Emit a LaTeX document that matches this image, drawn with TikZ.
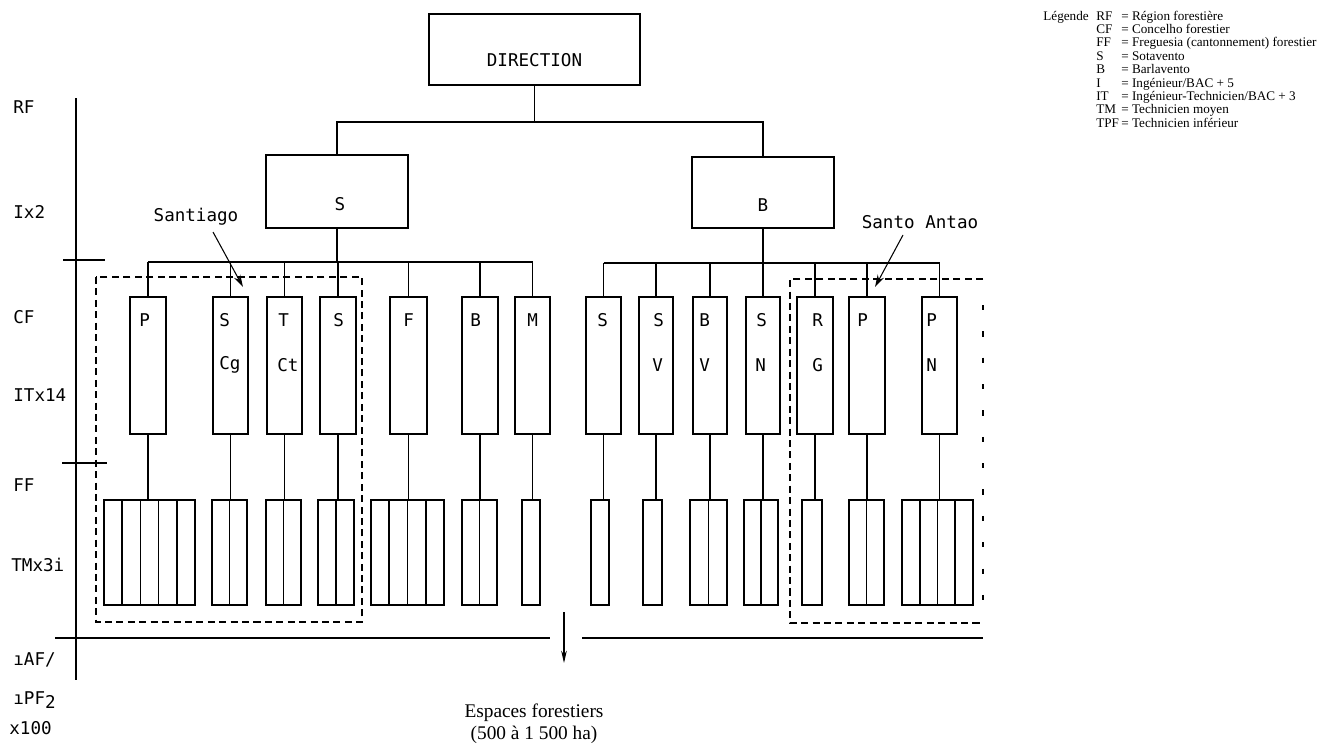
\documentclass[tikz,border=0pt]{standalone}
\usepackage{fontspec}
\setmainfont{Liberation Serif}
\newfontfamily\plotfont{DejaVu Sans Mono}
\usetikzlibrary{arrows.meta,calc}
\newcommand\cfb[7]{% name, xl, xr, top-x, top, bottom-x, bottom
  \node[box, minimum width={(#3-#2)*0.02cm}, minimum height=137*0.02cm] (#1) at ({(#2+#3)/2},365.5) {};
  \node[lab, anchor=west] (#1t) at (#4,320) {#5};
  \node[lab, anchor=west] (#1b) at (#6,365) {#7};
}
\newcommand\ffb[4]{% name, xl, xr, cells
  \node[box, minimum width={(#3-#2)*0.02cm}, minimum height=105*0.02cm] (#1) at ({(#2+#3)/2},552.5) {};
  \ifnum#4>1
    \pgfmathtruncatemacro\nn{#4-1}
    \foreach \k in {1,...,\nn}{
      \draw[divl] ($(#1.north west)!{\k/#4}!(#1.north east)$) -- ($(#1.south west)!{\k/#4}!(#1.south east)$);
    }
  \fi
}
\newcommand\legrow[3]{% row, key, text
  \node[leg] (lk#1) at (1096,{20+#1*13.4}) {#2};
  \node[leg] (lv#1) at (1121,{20+#1*13.4}) {= #3};
}
\begin{document}
\begin{tikzpicture}[x=0.02cm,y=-0.02cm,
  box/.style={draw, line width=1.1pt, rectangle, inner sep=0pt, outer sep=0pt},
  divl/.style={line width=0.9pt},
  conn/.style={line width=0.6pt},
  lab/.style={font=\plotfont\fontsize{10}{12}\selectfont, inner sep=0pt},
  leg/.style={font=\fontsize{7.5}{8}\selectfont, inner sep=0pt, anchor=base west},
  dbox/.style={line width=0.8pt, dash pattern=on 4pt off 2.5pt},
  tip/.style={-{Stealth[length=7pt,width=4pt]}, line width=0.6pt}]
\useasboundingbox (0,0) rectangle (1326,744);

% top level
\node[box, minimum width=211*0.02cm, minimum height=71*0.02cm] (dir) at (534.5,49.5) {};
\node[lab] (dirt) at (534.5,60) {DIRECTION};
\node[box, minimum width=142*0.02cm, minimum height=73*0.02cm] (S) at (337,191.5) {};
\node[lab] (St) at (340,204) {S};
\node[box, minimum width=142*0.02cm, minimum height=71*0.02cm] (B) at (763,192.5) {};
\node[lab] (Bt) at (763,205) {B};
\coordinate (j0) at (534.5,122);
\draw[conn] (dir.south) -- (j0);
\draw[conn] (S.north) |- (j0) -| (B.north);

% CF boxes
\cfb{cP}{130}{166}{139}{P}{139}{}
\cfb{cSCg}{213}{248}{219}{S}{219}{Cg}
\cfb{cTCt}{267}{302}{278}{T}{277}{Ct}
\cfb{cS}{320}{356}{333}{S}{333}{}
\cfb{cF}{390}{427}{403}{F}{403}{}
\cfb{cB}{462}{498}{470}{B}{470}{}
\cfb{cM}{515}{550}{527}{M}{527}{}
\cfb{dS}{586}{621}{597}{S}{597}{}
\cfb{dSV}{639}{673}{653}{S}{652}{V}
\cfb{dBV}{693}{727}{699}{B}{699}{V}
\cfb{dSN}{746}{780}{756}{S}{755}{N}
\cfb{dRG}{797}{833}{812}{R}{812}{G}
\cfb{dP}{849}{885}{857}{P}{857}{}
\cfb{dPN}{922}{957}{926}{P}{926}{N}

% buses
\coordinate (busL) at (0,262);
\coordinate (busR) at (0,263);
\draw[conn] (S.south) -- (S.south |- busL);
\draw[conn] (cP.north |- busL) -- (cM.north |- busL);
\foreach \n in {cP,cSCg,cTCt,cS,cF,cB,cM} \draw[conn] (\n.north) -- (\n.north |- busL);
\draw[conn] (B.south) -- (B.south |- busR);
\draw[conn] (dS.north |- busR) -- (dPN.north |- busR);
\foreach \n in {dS,dSV,dBV,dSN,dRG,dP,dPN} \draw[conn] (\n.north) -- (\n.north |- busR);

% FF boxes
\ffb{fP}{104}{195}{5}
\ffb{fSCg}{212}{247}{2}
\ffb{fTCt}{266}{301}{2}
\ffb{fS}{318}{354}{2}
\ffb{fF}{371}{444}{4}
\ffb{fB}{462}{497}{2}
\ffb{fM}{522}{540}{1}
\ffb{gS}{591}{609}{1}
\ffb{gSV}{643}{662}{1}
\ffb{gBV}{690}{727}{2}
\ffb{gSN}{744}{778}{2}
\ffb{gRG}{802}{822}{1}
\ffb{gP}{849}{884}{2}
\ffb{gPN}{902}{973}{4}
\foreach \a/\b in {cP/fP,cSCg/fSCg,cTCt/fTCt,cS/fS,cF/fF,cB/fB,cM/fM,dS/gS,dSV/gSV,dBV/gBV,dSN/gSN,dRG/gRG,dP/gP,dPN/gPN}
  \draw[conn] (\a.south) -- (\a.south |- \b.north);

% dashed groups
\draw[dbox] (96,277) rectangle (362,622);
\draw[dbox] (983,279) -- (790,279) -- (790,623) -- (983,623);
\draw[line width=0.6pt, dash pattern=on 3pt off 12pt] (983,305) -- (983,600);

% group labels
\node[lab] (santiago) at (196,217) {Santiago};
\coordinate (sa1) at (213,232);
\coordinate (sa2) at (243,287);
\draw[tip] (sa1) -- (sa2);
\node[lab] (antao) at (920,222) {Santo Antao};
\coordinate (an1) at (903,235);
\coordinate (an2) at (875,287);
\draw[tip] (an1) -- (an2);

% left axis
\coordinate (ax1) at (76,98);
\coordinate (ax2) at (76,680);
\draw[conn] (ax1) -- (ax2);
\coordinate (t1a) at (63,260); \coordinate (t1b) at (105,260);
\coordinate (t2a) at (62,463); \coordinate (t2b) at (107,463);
\draw[conn] (t1a) -- (t1b);
\draw[conn] (t2a) -- (t2b);
\coordinate (h1) at (55,638); \coordinate (h2) at (550,638);
\coordinate (h3) at (582,638); \coordinate (h4) at (983,638);
\draw[line width=0.8pt] (h1) -- (h2);
\draw[line width=0.8pt] (h3) -- (h4);
\coordinate (ar1) at (564,612); \coordinate (ar2) at (564,663);
\draw[-{Stealth[length=7pt,width=3.2pt]}, line width=0.6pt] (ar1) -- (ar2);

\node[lab, anchor=west] (lRF) at (13,107) {RF};
\node[lab, anchor=west] (lI) at (13,212) {Ix2};
\node[lab, anchor=west] (lCF) at (13,317) {CF};
\node[lab, anchor=west] (lIT) at (13,395) {ITx14};
\node[lab, anchor=west] (lFF) at (13,485) {FF};
\node[lab, anchor=west] (lTM) at (11,565) {TMx3i};
\node[lab, anchor=west] (lTAF) at (13,660) {ıAF/};
\node[lab, anchor=west] (lTPF) at (13,700) {ıPF\raisebox{-2pt}{2}};
\node[lab, anchor=west] (lx) at (9,728) {x100};

\node[font=\fontsize{11}{12.5}\selectfont, align=center, inner sep=0pt] (esp) at (534,724) {Espaces forestiers\\(500 à 1 500 ha)};

% legend
\node[leg] (legt) at (1043,20) {Légende};
\legrow{0}{RF}{Région forestière}
\legrow{1}{CF}{Concelho forestier}
\legrow{2}{FF}{Freguesia (cantonnement) forestier}
\legrow{3}{S}{Sotavento}
\legrow{4}{B}{Barlavento}
\legrow{5}{I}{Ingénieur/BAC + 5}
\legrow{6}{IT}{Ingénieur-Technicien/BAC + 3}
\legrow{7}{TM}{Technicien moyen}
\legrow{8}{TPF}{Technicien inférieur}
\end{tikzpicture}
\end{document}
